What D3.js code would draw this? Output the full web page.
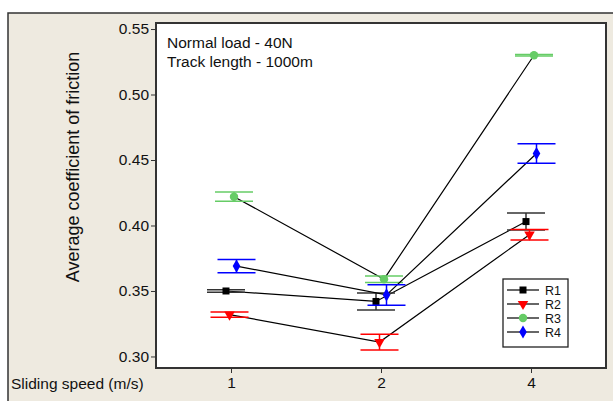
<!DOCTYPE html>
<html>
<head>
<meta charset="utf-8">
<script src="https://cdn.jsdelivr.net/npm/d3@7"></script>
<style>
body { margin: 0; background: #fff; }
text { font-family: "Liberation Sans", Arial, sans-serif; fill: #111; }
</style>
</head>
<body>
<svg id="chart" width="613" height="401"></svg>
<script>
var speeds = ["1", "2", "4"];
var seriesNames = ["R1", "R2", "R3", "R4"];
var r1 = [0.350, 0.342, 0.403];
var r2 = [0.332, 0.311, 0.393];
var r3 = [0.422, 0.359, 0.530];
var r4 = [0.369, 0.347, 0.455];
var r1Err = [0.001, 0.0065, 0.0065];
var r2Err = [0.002, 0.006, 0.004];
var r3Err = [0.0035, 0.0025, 0.0005];
var r4Err = [0.005, 0.0078, 0.0075];
var yTicks = [0.30, 0.35, 0.40, 0.45, 0.50, 0.55];

var colors = ["#000000", "#ff0000", "#66cc66", "#0000ff"];
var capColors = ["#333333", "#ff0000", "#66cc66", "#0000ff"];
var symbols = [d3.symbolSquare, d3.symbolTriangle, d3.symbolCircle, d3.symbolDiamond];
var dodge = [-5, -1.5, 3, 5.5];

var series = [r1, r2, r3, r4].map(function (vals, i) {
    var errs = [r1Err, r2Err, r3Err, r4Err][i];
    return {
        name: seriesNames[i],
        points: vals.map(function (v, j) {
            return { speed: speeds[j], value: v, err: errs[j] };
        })
    };
});

var svg = d3.select("#chart");
var plot = { left: 156, top: 23, right: 606, bottom: 368 };

// beige outer panel
svg.append("rect")
    .attr("x", 8).attr("y", 13)
    .attr("width", 620).attr("height", 400)
    .attr("fill", "#eeeae0")
    .attr("stroke", "#333")
    .attr("stroke-width", 1.5);

svg.append("rect")
    .attr("x", plot.left).attr("y", plot.top)
    .attr("width", plot.right - plot.left).attr("height", plot.bottom - plot.top)
    .attr("fill", "#fff");

var x = d3.scalePoint()
    .domain(speeds)
    .range([plot.left, plot.right])
    .padding(0.5);

var y = d3.scaleLinear()
    .domain([0.2912, 0.5546])
    .range([plot.bottom, plot.top]);

var yAxis = svg.append("g")
    .attr("transform", "translate(" + plot.left + ",0)")
    .call(d3.axisLeft(y).tickValues(yTicks).tickFormat(d3.format(".2f")).tickSize(5).tickPadding(2));
var xAxis = svg.append("g")
    .attr("transform", "translate(0," + plot.bottom + ")")
    .call(d3.axisBottom(x).tickSize(5).tickPadding(4));
[xAxis, yAxis].forEach(function (ax) {
    ax.select(".domain").remove();
    ax.selectAll("line").attr("stroke", "#333");
    ax.selectAll("text").attr("font-size", "15.5px").attr("fill", "#111")
        .attr("font-family", "Liberation Sans, Arial, sans-serif");
});

// lines
var line = d3.line()
    .x(function (d) { return x(d.speed) + d.dx; })
    .y(function (d) { return y(d.value); });

var groups = svg.selectAll("g.series")
    .data(series)
    .enter().append("g")
    .attr("class", "series");

groups.append("path")
    .attr("d", function (s, i) {
        return line(s.points.map(function (p) {
            return { speed: p.speed, value: p.value, dx: dodge[i] };
        }));
    })
    .attr("fill", "none")
    .attr("stroke", "#000")
    .attr("stroke-width", 1.2);

// error bars
groups.each(function (s, i) {
    var g = d3.select(this);
    s.points.forEach(function (p) {
        var cx = x(p.speed) + dodge[i];
        var top = y(p.value + p.err), bot = y(p.value - p.err);
        g.append("line")
            .attr("x1", cx).attr("x2", cx)
            .attr("y1", top).attr("y2", bot)
            .attr("stroke", capColors[i]).attr("stroke-width", 1.5);
        [top, bot].forEach(function (cy) {
            g.append("line")
                .attr("x1", cx - 19).attr("x2", cx + 19)
                .attr("y1", cy).attr("y2", cy)
                .attr("stroke", capColors[i]).attr("stroke-width", 1.5);
        });
    });
});

function symbolPath(i) {
    var sizes = [49, 48, 56, 50];
    return d3.symbol().type(symbols[i]).size(sizes[i])();
}

groups.each(function (s, i) {
    d3.select(this).selectAll("path.marker")
        .data(s.points)
        .enter().append("path")
        .attr("class", "marker")
        .attr("d", symbolPath(i))
        .attr("transform", function (p) {
            var rot = i === 1 ? " rotate(180)" : "";
            return "translate(" + (x(p.speed) + dodge[i]) + "," + y(p.value) + ")" + rot;
        })
        .attr("fill", colors[i]);
});

// plot frame
svg.append("rect")
    .attr("x", plot.left).attr("y", plot.top)
    .attr("width", plot.right - plot.left).attr("height", plot.bottom - plot.top)
    .attr("fill", "none")
    .attr("stroke", "#333")
    .attr("stroke-width", 2);

// annotation
svg.append("text").attr("x", 167).attr("y", 48).attr("font-size", "15.5px").text("Normal load - 40N");
svg.append("text").attr("x", 167).attr("y", 67).attr("font-size", "15.5px").text("Track length - 1000m");

// axis titles
svg.append("text")
    .attr("transform", "translate(79,167) rotate(-90)")
    .attr("text-anchor", "middle")
    .attr("font-size", "18px")
    .text("Average coefficient of friction");
svg.append("text").attr("x", 11).attr("y", 389).attr("font-size", "15.5px").text("Sliding speed (m/s)");

// legend
var legend = svg.append("g").attr("transform", "translate(503,279)");
legend.append("rect")
    .attr("width", 65).attr("height", 68)
    .attr("fill", "#fff").attr("stroke", "#222").attr("stroke-width", 1.3);
seriesNames.forEach(function (name, i) {
    var ly = 11 + i * 14;
    legend.append("line")
        .attr("x1", 4).attr("x2", 36).attr("y1", ly).attr("y2", ly)
        .attr("stroke", "#000").attr("stroke-width", 1.2);
    legend.append("path")
        .attr("d", symbolPath(i))
        .attr("transform", "translate(20," + ly + ")" + (i === 1 ? " rotate(180)" : ""))
        .attr("fill", colors[i]);
    legend.append("text")
        .attr("x", 42).attr("y", ly + 4.5)
        .attr("font-size", "12.5px")
        .text(name);
});
</script>
</body>
</html>
